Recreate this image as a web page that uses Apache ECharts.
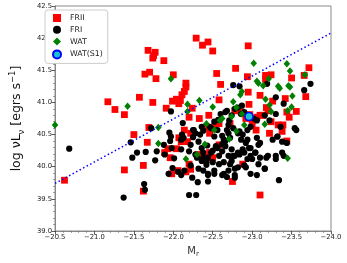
<!DOCTYPE html>
<html><head><meta charset="utf-8">
<script src="https://cdn.jsdelivr.net/npm/echarts@6/dist/echarts.min.js"></script>
<style>html,body{margin:0;padding:0;background:#fff}#c{width:347px;height:263px}</style>
</head><body><div id="c"></div>
<script>
const frii = [
[-22.29,42.00],[-22.37,41.89],[-22.44,41.94],[-22.50,41.80],[-22.95,41.88],
[-21.68,41.81],[-21.77,41.78],[-21.75,41.73],[-21.74,41.69],[-21.88,41.65],
[-21.64,41.44],[-21.70,41.47],[-21.78,41.37],[-21.57,41.08],[-21.17,41.01],
[-21.26,40.89],[-21.38,40.81],[-21.74,41.00],[-22.00,41.43],[-22.16,41.30],
[-22.16,41.24],[-22.14,41.17],[-22.11,41.12],[-21.99,41.02],[-22.04,41.05],
[-22.09,41.03],[-22.07,40.98],[-21.91,40.91],[-22.20,40.77],[-22.55,41.45],
[-22.60,41.28],[-22.79,41.53],[-22.94,41.40],[-22.95,41.16],[-22.58,41.04],
[-23.10,41.11],[-23.17,41.42],[-23.17,41.36],[-23.24,41.43],[-23.26,41.02],
[-23.42,41.06],[-23.50,41.38],[-23.72,41.54],[-23.68,41.09],[-23.66,41.42],
[-23.44,40.85],[-23.56,40.86],[-23.47,40.77],[-23.39,40.65],[-23.38,40.55],
[-23.33,40.65],[-23.44,40.40],[-23.22,40.52],[-23.10,40.80],[-23.24,40.70],
[-23.20,40.87],[-22.45,40.80],[-22.78,40.87],[-22.86,40.85],[-22.96,40.97],
[-22.72,40.67],[-22.58,40.67],[-22.52,40.62],[-22.46,40.52],[-22.42,40.62],
[-22.33,40.75],[-22.24,40.91],[-22.14,40.57],[-22.10,40.39],[-22.18,40.39],
[-22.22,40.52],[-22.07,40.45],[-21.93,40.28],[-21.89,40.22],[-21.96,40.14],
[-22.04,40.28],[-21.98,39.89],[-22.06,39.94],[-22.16,39.92],[-22.22,39.96],
[-22.20,40.04],[-21.67,40.38],[-21.69,40.61],[-21.50,40.50],[-21.38,39.95],
[-21.62,40.02],[-21.62,39.62],[-20.62,39.79],[-23.10,39.56],[-22.75,39.77],
[-22.88,40.04],[-22.44,40.14],[-22.50,40.14],[-22.46,40.22],[-22.31,40.19],
[-23.05,40.57],[-23.00,40.67],[-23.06,40.77],[-23.14,40.80],[-23.18,40.92],
[-22.58,40.34],[-22.97,40.81],[-22.92,40.75]
];
const fri = [
[-21.97,40.86],[-22.12,40.68],[-21.95,40.53],[-21.97,40.47],[-21.96,40.40],
[-22.10,40.42],[-22.11,40.50],[-22.13,40.45],[-22.25,40.57],[-22.28,40.52],
[-22.25,40.46],[-22.32,40.39],[-22.38,40.56],[-22.46,40.62],[-22.52,40.47],
[-22.56,40.57],[-22.62,40.48],[-22.64,40.42],[-22.68,40.57],[-22.70,40.52],
[-22.71,40.72],[-22.60,40.82],[-22.66,40.85],[-22.74,40.80],[-22.57,40.73],
[-21.65,40.23],[-21.77,40.10],[-21.89,40.19],[-21.98,40.29],[-22.01,40.13],
[-22.10,40.27],[-22.20,40.24],[-22.22,40.34],[-22.28,40.19],[-22.30,40.14],
[-22.36,40.29],[-22.38,40.22],[-22.43,40.33],[-22.44,40.14],[-22.48,40.22],
[-22.54,40.32],[-22.58,40.17],[-22.62,40.24],[-22.66,40.32],[-22.70,40.17],
[-22.74,40.27],[-22.36,40.09],[-22.42,40.03],[-22.50,40.07],[-22.58,40.04],
[-22.64,40.07],[-22.72,40.04],[-22.70,39.94],[-22.64,39.89],[-22.52,39.89],
[-22.44,39.89],[-22.38,39.94],[-22.32,39.97],[-22.22,40.02],[-22.14,39.94],
[-22.06,39.92],[-21.99,39.98],[-21.94,39.89],[-22.10,39.87],[-22.24,39.83],
[-22.31,39.76],[-22.44,39.87],[-22.44,39.77],[-22.62,39.87],[-22.78,39.83],
[-22.68,40.87],[-22.78,40.90],[-22.86,40.82],[-23.02,40.75],[-23.06,40.72],
[-23.16,40.80],[-23.22,40.72],[-23.30,40.82],[-23.36,40.62],[-23.26,40.42],
[-23.32,40.47],[-23.38,40.39],[-23.44,40.37],[-23.56,40.57],[-22.76,40.60],
[-22.82,40.52],[-22.88,40.50],[-22.94,40.57],[-22.98,40.62],[-23.06,40.45],
[-23.08,40.34],[-22.86,40.42],[-22.92,40.37],[-22.96,40.29],[-22.90,40.22],
[-22.84,40.19],[-22.78,40.17],[-22.98,40.17],[-23.04,40.22],[-23.10,40.14],
[-23.18,40.14],[-23.30,40.12],[-23.40,40.17],[-22.94,40.12],[-22.82,39.99],
[-22.78,39.97],[-22.92,39.99],[-22.98,39.89],[-23.06,39.87],[-23.16,39.97],
[-23.34,39.79],[-22.68,39.84],[-22.74,40.09],
[-20.68,40.28],[-21.37,39.52],[-21.63,39.73],[-21.64,39.64],[-21.46,40.38],
[-21.48,40.14],[-21.54,40.22],[-21.72,40.60],[-21.79,40.24],[-21.88,40.34],
[-22.20,39.56],[-22.29,39.56],[-22.76,41.27],[-22.84,41.25],[-23.19,41.29],
[-23.30,41.08],[-23.40,40.98],[-23.54,40.60],[-23.66,41.19],[-23.74,41.29],
[-22.52,40.70],[-22.82,40.92],[-22.87,40.95],[-22.90,40.85],
[-22.36,40.62],[-22.48,40.60],[-22.70,40.65],[-22.84,40.55],[-22.72,40.45],
[-22.62,40.35],[-22.50,40.25],[-22.42,40.07],[-22.52,39.94],[-22.76,40.17],
[-22.88,40.27],[-22.94,40.42],[-23.04,40.22],[-23.00,40.12],[-22.90,40.02],
[-22.78,39.87],[-23.10,40.37],[-23.20,40.17],[-23.08,40.04],[-23.16,39.97],
[-23.30,40.17],[-23.38,40.22],[-23.32,40.47],[-22.38,40.14],[-22.26,40.57],
[-22.34,40.50],[-22.66,40.40],[-22.56,40.29],[-22.82,40.22],[-22.98,40.29]
];
const wat = [
[-20.50,40.65],[-21.42,40.94],[-21.81,40.61],[-21.81,40.36],[-21.97,41.37],
[-22.18,40.97],[-22.18,40.86],[-22.33,41.03],[-22.16,40.12],[-22.30,40.19],
[-22.40,40.35],[-22.42,40.67],[-22.50,40.93],[-22.52,40.57],[-22.59,40.72],
[-22.62,40.75],[-22.71,40.43],[-22.76,41.01],[-22.80,40.92],[-22.85,41.12],
[-22.87,41.17],[-22.80,40.55],[-22.90,40.65],[-22.87,40.82],[-23.02,41.61],
[-23.06,41.33],[-23.08,41.30],[-23.14,41.26],[-23.21,41.37],[-23.17,41.05],
[-23.22,40.96],[-23.24,40.86],[-23.16,40.66],[-23.33,41.25],[-23.35,41.22],
[-23.44,41.60],[-23.48,41.49],[-23.46,41.26],[-23.48,41.24],[-23.51,41.10],
[-23.50,40.93],[-23.45,40.87],[-23.45,40.13],[-23.67,41.43],[-22.74,40.78]
];
const watS1 = [[-22.96,40.78]];
const fitLine = [[-20.5,39.74],[-24.0,42.08]];
const xRange = [-24.0, -20.5];
const yRange = [39.0, 42.5];

const fmt = v => v.toFixed(1).replace('-', '\u2212');
const chart = echarts.init(document.getElementById('c'), null, {renderer:'canvas'});
const F = 'DejaVu Sans';
const axisCommon = {
  axisLine:{show:true, lineStyle:{color:'#888', width:1}},
  axisTick:{show:true, inside:false, length:3.5, lineStyle:{color:'#333', width:0.8}},
  minorTick:{show:true, splitNumber:5, length:2, lineStyle:{color:'#666', width:0.6}},
  splitLine:{show:false},
  axisLabel:{fontFamily:F, fontSize:6.8, color:'#222', formatter:fmt, margin:3}
};
chart.setOption({
  animation:false,
  backgroundColor:'#fff',
  grid:{left:41, right:16, top:6, bottom:25.5, show:true, borderColor:'#888', borderWidth:1, backgroundColor:'transparent'},
  legend:{
    orient:'vertical', left:45, top:10, padding:[4,5,4,7],
    itemWidth:8, itemHeight:8, itemGap:3.8,
    backgroundColor:'#fff', borderColor:'#ccc', borderWidth:1, borderRadius:3,
    textStyle:{fontFamily:F, fontSize:7.8, color:'#222', padding:[0,0,0,4]},
    data:['FRII','FRI','WAT','WAT(S1)']
  },
  xAxis:Object.assign({}, axisCommon, {
    type:'value', min:xRange[0], max:xRange[1], interval:0.5, inverse:true,
    name:'{a|M}{s|r}', nameLocation:'middle', nameGap:13,
    nameTextStyle:{fontFamily:F, color:'#333', rich:{
      a:{fontFamily:F, fontSize:10, color:'#333', lineHeight:14},
      s:{fontFamily:F, fontSize:7, color:'#333', verticalAlign:'bottom', lineHeight:14}
    }}
  }),
  yAxis:Object.assign({}, axisCommon, {
    type:'value', min:yRange[0], max:yRange[1], interval:0.5,
    name:'{a|log \u03bdL}{s|\u03bd}{a| [egrs s}{p|\u22121}{a|]}', nameLocation:'middle', nameGap:23, nameRotate:90,
    nameTextStyle:{fontFamily:F, color:'#111', rich:{
      a:{fontFamily:F, fontSize:12.5, color:'#111', lineHeight:18},
      s:{fontFamily:F, fontSize:8.5, color:'#111', verticalAlign:'bottom', lineHeight:18},
      p:{fontFamily:F, fontSize:8.5, color:'#111', verticalAlign:'top', lineHeight:18}
    }}
  }),
  series:[
    {name:'FRII', type:'scatter', data:frii, symbol:'rect', symbolSize:6.8, itemStyle:{color:'#ff0000', opacity:1}, z:2},
    {name:'FRI', type:'scatter', data:fri, symbol:'circle', symbolSize:6.2, itemStyle:{color:'#000000', opacity:1}, z:3},
    {name:'WAT', type:'scatter', data:wat, symbol:'diamond', symbolSize:[6.5,7.5], itemStyle:{color:'#008000', opacity:1}, z:4},
    {name:'WAT(S1)', type:'scatter', data:watS1, symbol:'circle', symbolSize:8, itemStyle:{color:'#17c3cf', borderColor:'#0000ff', borderWidth:1.5, opacity:1}, z:5},
    {name:'fit', type:'line', data:fitLine, symbol:'none', lineStyle:{color:'#0000ff', width:1.5, type:[1.5,2.5]}, z:6, silent:true}
  ]
});
</script></body></html>
